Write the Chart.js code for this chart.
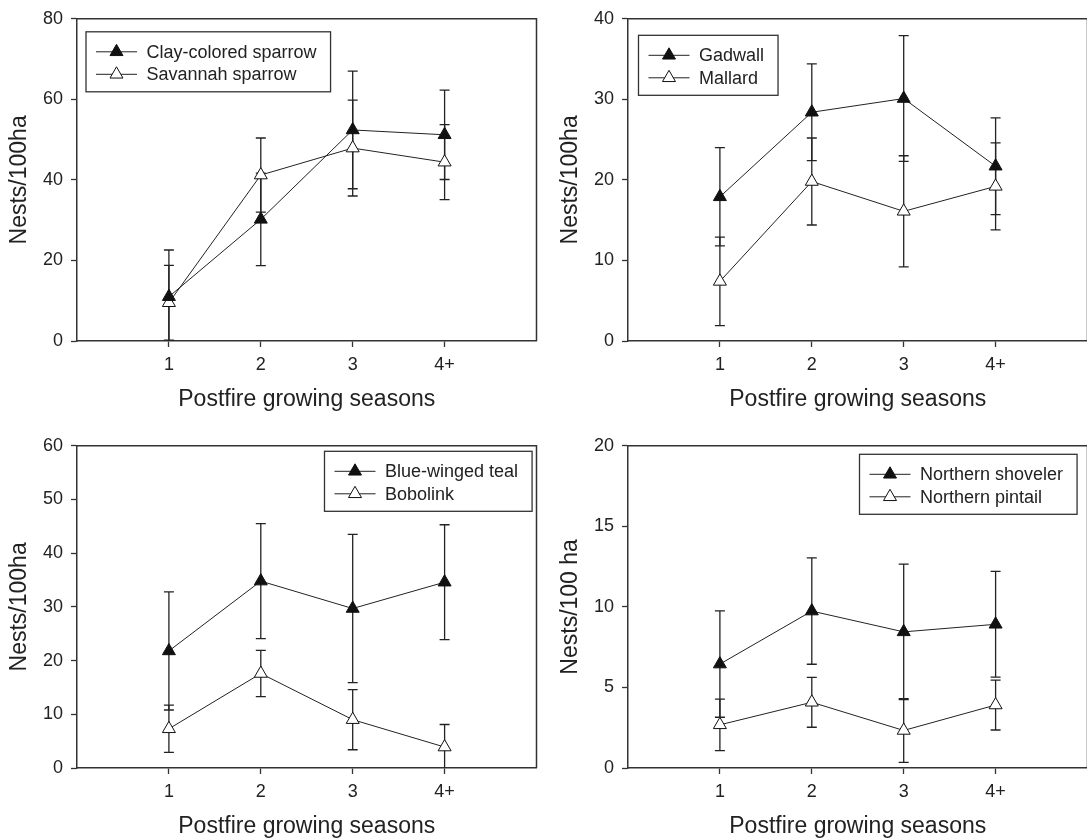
<!DOCTYPE html>
<html><head><meta charset="utf-8">
<script src="https://cdn.jsdelivr.net/npm/chart.js@4.4.0/dist/chart.umd.min.js"></script>
<style>
html,body{margin:0;padding:0;background:#fff;overflow:hidden;width:1087px;height:839px;}
#wrap{position:relative;width:1087px;height:839px;overflow:hidden;background:#fff;}
canvas{position:absolute;}
</style></head><body><div id="wrap">
<canvas id="c1" width="545" height="420" style="left:0px;top:0px"></canvas>
<canvas id="c2" width="545" height="420" style="left:551px;top:0px"></canvas>
<canvas id="c3" width="545" height="420" style="left:0px;top:427px"></canvas>
<canvas id="c4" width="545" height="420" style="left:551px;top:427px"></canvas>
</div>
<script>
// ---- data ----
const seasons = ['1', '2', '3', '4+'];
const seasonPos = [1, 2, 3, 4];
const xTitle = 'Postfire growing seasons';

const clayColored = [11.0, 30.2, 52.4, 51.2];
const clayColoredErr = [11.6, 11.5, 14.6, 11.1];
const savannahSparrow = [9.5, 41.2, 47.9, 44.4];
const savannahSparrowErr = [9.3, 9.2, 11.9, 9.3];

const gadwall = [17.9, 28.4, 30.1, 21.7];
const gadwallErr = [6.1, 6.0, 7.8, 6.0];
const mallard = [7.4, 19.8, 16.1, 19.2];
const mallardErr = [5.5, 5.4, 6.9, 5.4];

const blueWingedTeal = [21.8, 34.8, 29.7, 34.6];
const blueWingedTealErr = [11.0, 10.7, 13.8, 10.7];
const bobolink = [7.3, 17.6, 9.0, 3.9];
const bobolinkErr = [4.4, 4.3, 5.6, 4.2];

const northernShoveler = [6.45, 9.74, 8.45, 8.92];
const northernShovelerErr = [3.3, 3.3, 4.2, 3.28];
const northernPintail = [2.68, 4.08, 2.33, 3.91];
const northernPintailErr = [1.6, 1.55, 1.98, 1.55];

const yMax = [80, 40, 60, 20];
const yStep = [20, 10, 10, 5];
const yTitles = ['Nests/100ha', 'Nests/100ha', 'Nests/100ha', 'Nests/100 ha'];

// ---- styling ----
const FONT = 'Liberation Sans, Arial, Helvetica, sans-serif';
const INK = '#222';
Chart.defaults.font.family = FONT;
Chart.defaults.color = INK;

const panels = [
  {id: 'c1', series: [['Clay-colored sparrow', clayColored, clayColoredErr], ['Savannah sparrow', savannahSparrow, savannahSparrowErr]], legend: {dx: 9, dy: 13}},
  {id: 'c2', series: [['Gadwall', gadwall, gadwallErr], ['Mallard', mallard, mallardErr]], legend: {dx: 10.5, dy: 16.5}},
  {id: 'c3', series: [['Blue-winged teal', blueWingedTeal, blueWingedTealErr], ['Bobolink', bobolink, bobolinkErr]], legend: {dx: 247.5, dy: 5.5}},
  {id: 'c4', series: [['Northern shoveler', northernShoveler, northernShovelerErr], ['Northern pintail', northernPintail, northernPintailErr]], legend: {dx: 231.5, dy: 8.5}}
];

function tri(ctx, x, y, r, fill) {
  ctx.beginPath();
  ctx.moveTo(x, y - r);
  ctx.lineTo(x + r * 0.866, y + r * 0.5);
  ctx.lineTo(x - r * 0.866, y + r * 0.5);
  ctx.closePath();
  ctx.fillStyle = fill; ctx.fill();
  ctx.lineWidth = 1; ctx.strokeStyle = '#111'; ctx.stroke();
}

const errorBars = {
  id: 'errorBars',
  beforeDatasetsDraw(chart) {
    const {ctx, chartArea: a, scales: {x, y}} = chart;
    ctx.save();
    ctx.beginPath(); ctx.rect(a.left, a.top, a.right - a.left, a.bottom - a.top); ctx.clip();
    ctx.strokeStyle = INK; ctx.lineWidth = 1.3;
    chart.data.datasets.forEach(ds => {
      ds.data.forEach((p, i) => {
        const e = ds.errors[i];
        const px = x.getPixelForValue(p.x);
        const yt = y.getPixelForValue(p.y + e), yb = y.getPixelForValue(p.y - e);
        ctx.beginPath();
        ctx.moveTo(px, yt); ctx.lineTo(px, yb);
        ctx.moveTo(px - 5, yt); ctx.lineTo(px + 5, yt);
        ctx.moveTo(px - 5, yb); ctx.lineTo(px + 5, yb);
        ctx.stroke();
      });
    });
    ctx.restore();
  }
};

const frameAndLegend = {
  id: 'frameAndLegend',
  afterDatasetsDraw(chart, args, opts) {
    const {ctx, chartArea: a} = chart;
    ctx.save();
    ctx.strokeStyle = '#333'; ctx.lineWidth = 1.5;
    ctx.beginPath();
    ctx.moveTo(a.left, a.top); ctx.lineTo(a.right, a.top); ctx.lineTo(a.right, a.bottom);
    ctx.stroke();
    // legend
    ctx.font = '18px ' + FONT;
    const labels = chart.data.datasets.map(d => d.label);
    const tw = Math.max(...labels.map(t => ctx.measureText(t).width));
    const L = a.left + opts.dx, T = a.top + opts.dy;
    const W = 60.5 + tw + 14, H = 60;
    ctx.fillStyle = '#fff'; ctx.fillRect(L, T, W, H);
    ctx.strokeStyle = '#333'; ctx.lineWidth = 1.3; ctx.strokeRect(L, T, W, H);
    chart.data.datasets.forEach((d, i) => {
      const yy = T + 20 + i * 22.5;
      ctx.strokeStyle = INK; ctx.lineWidth = 1;
      ctx.beginPath(); ctx.moveTo(L + 10, yy); ctx.lineTo(L + 51, yy); ctx.stroke();
      tri(ctx, L + 30.5, yy, 7.5, d.pointBackgroundColor);
      ctx.fillStyle = INK; ctx.textBaseline = 'middle'; ctx.textAlign = 'left';
      ctx.fillText(d.label, L + 60.5, yy + 1);
    });
    ctx.restore();
  }
};

panels.forEach((p, k) => {
  const datasets = p.series.map((s, j) => ({
    label: s[0],
    data: s[1].map((v, i) => ({x: seasonPos[i], y: v})),
    errors: s[2],
    borderColor: INK,
    borderWidth: 1,
    pointStyle: 'triangle',
    pointRadius: 7.5,
    pointBorderWidth: 1,
    pointBorderColor: '#111',
    pointBackgroundColor: j === 0 ? '#111' : '#fff',
    tension: 0,
    fill: false
  }));
  new Chart(document.getElementById(p.id), {
    type: 'line',
    data: {datasets},
    options: {
      responsive: false,
      animation: false,
      devicePixelRatio: 1,
      layout: {padding: {top: 17, right: 3, left: 0, bottom: 0}},
      plugins: {
        legend: {display: false},
        tooltip: {enabled: false},
        frameAndLegend: p.legend
      },
      scales: {
        x: {
          type: 'linear', min: 0, max: 5,
          afterBuildTicks: s => { s.ticks = seasonPos.map(v => ({value: v})); },
          afterFit: s => { s.height = 79; },
          ticks: {
            font: {size: 18}, color: INK, padding: 7, maxRotation: 0, autoSkip: false,
            callback: v => { const i = seasonPos.indexOf(v); return i >= 0 ? seasons[i] : ''; }
          },
          grid: {drawOnChartArea: false, drawTicks: true, tickLength: 6, color: '#333', tickWidth: 1.3},
          border: {display: true, color: '#333', width: 1.5},
          title: {display: true, text: xTitle, font: {size: 23}, color: INK, padding: {top: 0, bottom: 7}}
        },
        y: {
          min: 0, max: yMax[k],
          afterFit: s => { s.width = 77; },
          ticks: {stepSize: yStep[k], font: {size: 18}, color: INK, padding: 8},
          grid: {drawOnChartArea: false, drawTicks: true, tickLength: 6, color: '#333', tickWidth: 1.3},
          border: {display: true, color: '#333', width: 1.5},
          title: {display: true, text: yTitles[k], font: {size: 23}, color: INK, padding: {top: 6, bottom: 0}}
        }
      }
    },
    plugins: [errorBars, frameAndLegend]
  });
});
</script>
</body></html>
